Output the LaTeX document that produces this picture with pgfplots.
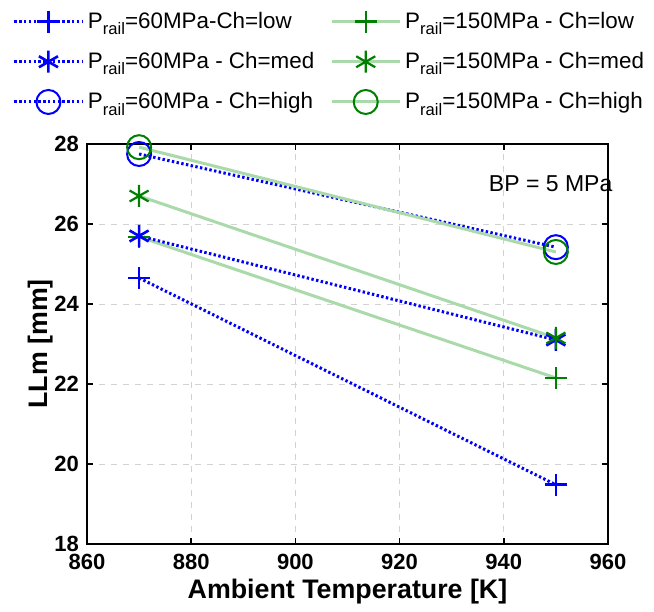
\documentclass[border=0pt]{standalone}
\usepackage{pgfplots}
\pgfplotsset{compat=1.18}
\usepackage{fontspec}
\setmainfont{Liberation Sans}
\definecolor{mblue}{RGB}{0,0,255}
\definecolor{mgreen}{RGB}{0,128,0}
\definecolor{pgreen}{RGB}{170,218,170}
\newcommand{\rail}{\raisebox{-0.55ex}{\fontsize{8.3}{9}\selectfont rail}}
\begin{document}
\begin{tikzpicture}
\begin{axis}[
  scale only axis,
  width=260.5pt, height=200pt,
  xmin=860, xmax=960, ymin=18, ymax=28,
  xtick={860,880,...,960}, ytick={18,20,...,28},
  grid=major,
  grid style={gray!35, dashed, line width=0.4pt},
  axis line style={line width=1pt},
  tick style={black, line width=0.8pt},
  major tick length=3pt,
  tick align=inside,
  /pgf/number format/assume math mode=true,
  /pgf/number format/1000 sep={},
  ticklabel style={font=\bfseries\fontsize{11}{13}\selectfont},
  xticklabel style={yshift=-1.5pt},
  yticklabel style={xshift=-0.5pt},
  xlabel={\bfseries Ambient Temperature [K]},
  ylabel={\bfseries LLm [mm]},
  label style={font=\bfseries\fontsize{13.4}{15}\selectfont},
  xlabel style={yshift=2pt},
  ylabel style={yshift=-6pt},
  legend columns=2,
  legend cell align=left,
  legend style={draw=none, fill=none, at={(0.5,1)}, anchor=south, xshift=-8.5pt, yshift=12pt,
    font=\fontsize{11.2}{13}\selectfont, row sep=6.5pt,
    /tikz/every even column/.append style={column sep=6pt},
    /tikz/every odd column/.append style={column sep=0pt}},
  legend image code/.code={
    \draw[mark repeat=2,mark phase=2,#1] plot coordinates {(0pt,0pt) (17pt,0pt) (34pt,0pt)};
  },
  clip=false,
]
\addplot[mblue, line width=1.5pt, dash pattern=on 1.2pt off 1.2pt, mark=+, mark size=5.5pt, mark options={solid, line width=1.3pt}]
  coordinates {(870,24.65) (950,19.48)};
\addlegendentry{P\rail=60MPa-Ch=low}
\addplot[pgreen, line width=1.5pt, mark=+, mark size=5.5pt, mark options={solid, mgreen, line width=1.1pt}]
  coordinates {(870,25.68) (950,22.15)};
\addlegendentry{P\rail=150MPa - Ch=low}
\addplot[mblue, line width=1.5pt, dash pattern=on 1.2pt off 1.2pt, mark=asterisk, mark size=5.5pt, mark options={solid, line width=1.3pt}]
  coordinates {(870,25.7) (950,23.1)};
\addlegendentry{P\rail=60MPa - Ch=med}
\addplot[pgreen, line width=1.5pt, mark=asterisk, mark size=5.5pt, mark options={solid, mgreen, line width=1.1pt}]
  coordinates {(870,26.7) (950,23.15)};
\addlegendentry{P\rail=150MPa - Ch=med}
\addplot[mblue, line width=1.5pt, dash pattern=on 1.2pt off 1.2pt, mark=o, mark size=6pt, mark options={solid, line width=1pt}]
  coordinates {(870,27.75) (950,25.42)};
\addlegendentry{P\rail=60MPa - Ch=high}
\addplot[pgreen, line width=1.5pt, mark=o, mark size=6pt, mark options={solid, mgreen, line width=1pt}]
  coordinates {(870,27.92) (950,25.3)};
\addlegendentry{P\rail=150MPa - Ch=high}
\node[font=\fontsize{11.5}{13}\selectfont] at (axis cs:949,27) {BP = 5 MPa};
\path[draw=none] (rel axis cs:-0.167,-0.17) rectangle (rel axis cs:1.0883,1.36);
\end{axis}
\end{tikzpicture}
\end{document}
